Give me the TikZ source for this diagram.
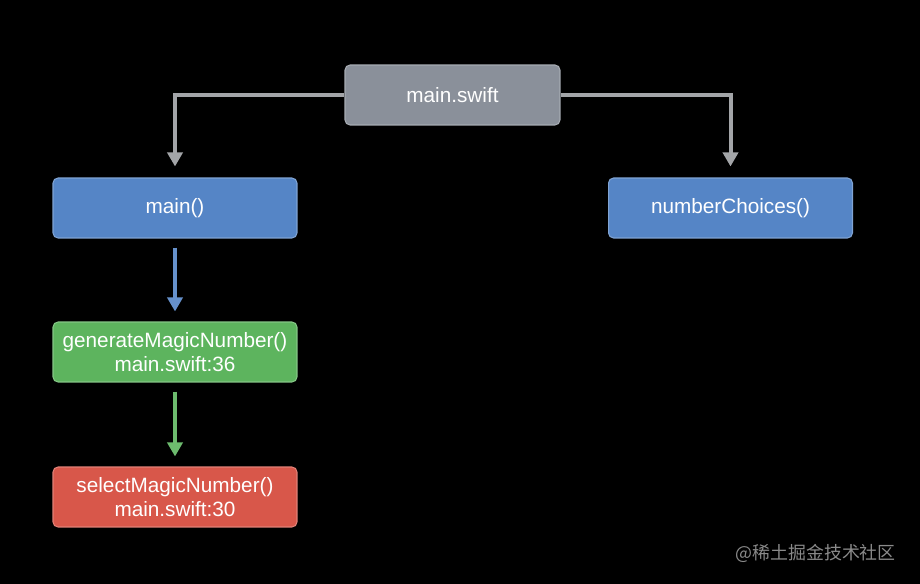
\documentclass[tikz,border=0pt]{standalone}
\usepackage{fontspec}
\setsansfont{Liberation Sans}
\newfontfamily\cjkfont{Noto Sans CJK SC}
\usetikzlibrary{arrows.meta}
\definecolor{filegray}{HTML}{8A909A}
\definecolor{funcblue}{HTML}{5585C6}
\definecolor{callgreen}{HTML}{5DB45E}
\definecolor{callred}{HTML}{D8574A}
\definecolor{linkgray}{HTML}{A3A5A8}
\definecolor{markgray}{HTML}{8A8A8A}
\begin{document}
\begin{tikzpicture}[x=0.02cm, y=-0.02cm,
    font=\sffamily\fontsize{11.8}{13.8}\selectfont,
    box/.style={draw=#1!75!white, fill=#1, line width=0.6pt, rounded corners=0.1cm,
      text=white, align=center, minimum width=4.88cm, minimum height=1.2cm},
    link/.style={draw=#1, line width=0.08cm,
      -{Triangle[width=0.3cm, length=0.28cm]}}]
  \fill [black] (0, 0) rectangle (920, 584);

  \node [box=filegray, minimum width=4.3cm] (file) at (452.5, 95) {main.swift};
  \node [box=funcblue] (main) at (175, 208) {main()};
  \node [box=funcblue] (choices) at (730.5, 208) {numberChoices()};
  \node [box=callgreen] (generate) at (175, 352) {generateMagicNumber()\\main.swift:36};
  \node [box=callred] (select) at (175, 497) {selectMagicNumber()\\main.swift:30};

  \draw [link=linkgray, shorten >=0.22cm] (file.west) -| (main.north);
  \draw [link=linkgray, shorten >=0.22cm] (file.east) -| (choices.north);
  \draw [link=funcblue!90!white, shorten <=0.18cm, shorten >=0.2cm] (main) -- (generate);
  \draw [link=callgreen!90!white, shorten <=0.18cm, shorten >=0.2cm] (generate) -- (select);

  \node [anchor=east, text=markgray, font=\cjkfont\fontsize{10.2}{12}\selectfont] (mark) at (902, 553) {@稀土掘金技术社区};
\end{tikzpicture}
\end{document}
